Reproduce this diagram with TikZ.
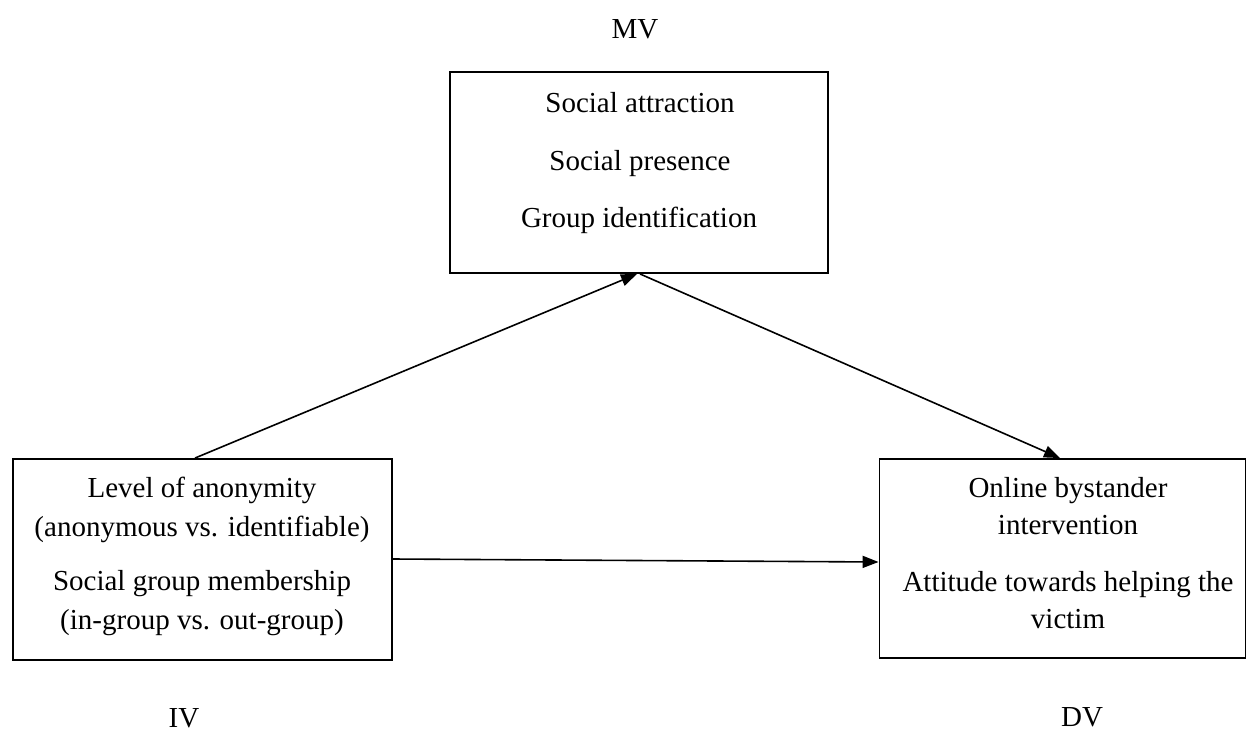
\documentclass[tikz,border=0pt]{standalone}
\usepackage{fontspec}
\setmainfont{Liberation Serif}
\usetikzlibrary{arrows.meta}
\begin{document}
\begin{tikzpicture}[x=1pt,y=-1pt,
  box/.style={draw, line width=1.9pt, inner sep=0pt, rectangle},
  txt/.style={font=\fontsize{29}{35}\selectfont, anchor=base, inner sep=0pt},
  lbl/.style={txt, text depth=0pt},
  arr/.style={line width=1.6pt, -{Triangle[length=16pt,width=12pt]}}]
\useasboundingbox (0,0) rectangle (1247,731);
% boxes
\node[box, minimum width=378pt, minimum height=201pt] (mv) at (639,172.5) {};
\node[box, minimum width=379pt, minimum height=201pt] (iv) at (202.5,559.5) {};
\node[box, minimum width=366pt, minimum height=199pt] (dv) at (1062.5,558.5) {};
% MV text
\node[txt] (mv1) at (640,112) {Social attraction};
\node[txt] (mv2) at (640,170) {Social presence};
\node[txt] (mv3) at (639,227) {Group identification};
% IV text
\node[txt] (iv1) at (202,497) {Level of anonymity};
\node[txt] (iv2) at (202,536) {(anonymous vs. identifiable)};
\node[txt] (iv3) at (202,590) {Social group membership};
\node[txt] (iv4) at (202,629) {(in-group vs. out-group)};
% DV text
\node[txt] (dv1) at (1068,497) {Online bystander};
\node[txt] (dv2) at (1068,534) {intervention};
\node[txt] (dv3) at (1068,591) {Attitude towards helping the};
\node[txt] (dv4) at (1068,628) {victim};
% labels
\node[lbl] (mvl) at (635,38) {MV};
\node[lbl] (ivl) at (184,727) {IV};
\node[lbl] (dvl) at (1082,726) {DV};
% arrows
\draw[arr] ([xshift=-7.5pt]iv.north) -- ([xshift=-2pt]mv.south);
\draw[arr] ([xshift=1pt]mv.south) -- ([xshift=-2.5pt]dv.north);
\draw[arr] ([yshift=0.5pt]iv.east) -- ([yshift=-3.5pt]dv.west);
\end{tikzpicture}
\end{document}
